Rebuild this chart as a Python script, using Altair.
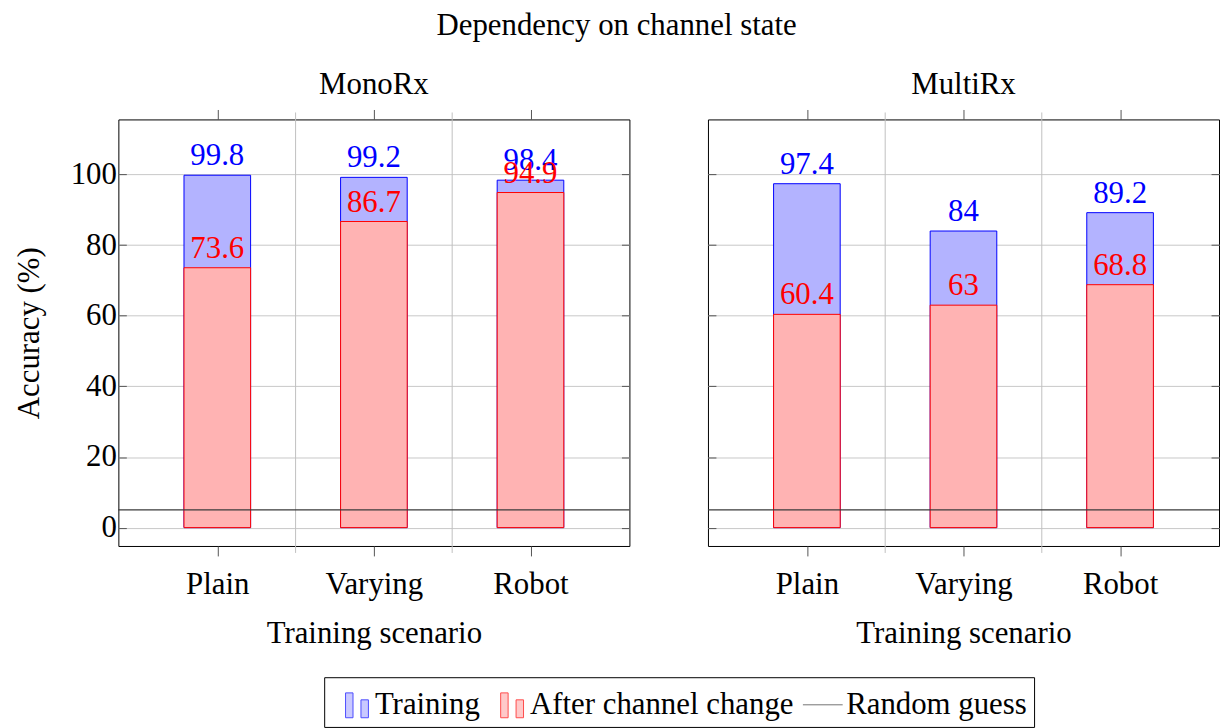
import altair as alt
import pandas as pd

# ---------------- data ----------------
receivers = ["MonoRx", "MultiRx"]
scenarios = ["Plain", "Varying", "Robot"]
positions = [0, 1, 2]
training_mono = [99.8, 99.2, 98.4]
after_mono = [73.6, 86.7, 94.9]
training_multi = [97.4, 84, 89.2]
after_multi = [60.4, 63, 68.8]
random_guess = 5
series_names = ["Training", "After channel change", "Random guess"]
y_ticks = [0, 20, 40, 60, 80, 100]
minor_grid = [0.5, 1.5]

FONT = "Liberation Serif"
W, H = 514, 429
FS = 31

xs = alt.Scale(domain=[-0.6, 2.6], nice=False, zero=False)
ys = alt.Scale(domain=[-5.2, 115.6], nice=False, zero=False)

BAR_ICON = "M-0.3,-0.6H0.075V0.65H-0.3Z M0.475,-0.25H0.85V0.65H0.475Z"
LINE_ICON = "M-1,0H1"

fill_scale = alt.Scale(domain=series_names, range=["#b3b3ff", "#ffb3b3", "transparent"])
stroke_scale = alt.Scale(domain=series_names, range=["#0000ff", "#ff0000", "#3a3a3a"])
shape_scale = alt.Scale(domain=series_names, range=[BAR_ICON, BAR_ICON, LINE_ICON])

legend = alt.Legend(
    title=None, orient="none", legendX=207, legendY=561, direction="horizontal",
    symbolSize=1600,
    labelFontSize=FS, labelFont=FONT, labelColor="black", labelLimit=500,
    strokeColor="black", padding=7, columnPadding=6, labelOffset=3,
    symbolStrokeWidth=1,
)

label_expr = "[" + ",".join("'%s'" % s for s in scenarios) + "][datum.value]"


def make_panel(title, train, after, show_y):
    train_df = pd.DataFrame({"pos": positions, "value": train, "series": "Training"})
    after_df = pd.DataFrame({"pos": positions, "value": after, "series": "After channel change"})
    guess_df = pd.DataFrame({"value": [random_guess], "series": ["Random guess"]})
    grid_df = pd.DataFrame({"pos": minor_grid})
    legend_df = pd.DataFrame({"series": series_names})

    x_bottom = alt.Axis(
        values=positions, labelExpr=label_expr, grid=False, domain=False,
        ticks=True, tickSize=10, tickColor="#555555", labelPadding=14,
        title="Training scenario", titlePadding=19,
        labelFont=FONT, labelFontSize=FS, labelColor="black",
        titleFont=FONT, titleFontSize=FS, titleFontWeight="normal", titleColor="black",
    )
    x_top = alt.Axis(
        orient="top", values=positions, labels=False, grid=False, domain=False,
        tickSize=10, tickColor="#555555", title=None,
    )
    y_left = alt.Axis(
        values=y_ticks, grid=True, gridColor="#c8c8c8", domain=False,
        tickSize=8, tickColor="#555555", offset=-8, labels=show_y, labelPadding=2,
        title="Accuracy (%)" if show_y else None, titlePadding=25,
        labelFont=FONT, labelFontSize=FS, labelColor="black",
        titleFont=FONT, titleFontSize=FS, titleFontWeight="normal", titleColor="black",
    )
    y_right = alt.Axis(
        orient="right", values=y_ticks, grid=False, domain=False,
        tickSize=8, tickColor="#555555", offset=-8, labels=False, title=None,
    )

    grid = alt.Chart(grid_df).mark_rule(color="#c0c0c0", strokeWidth=1).encode(
        x=alt.X("pos:Q", scale=xs, axis=None),
        y=alt.value(-7),
        y2=alt.value(H + 7),
    )
    train_bar = alt.Chart(train_df).mark_bar(size=67, strokeWidth=1).encode(
        x=alt.X("pos:Q", scale=xs, axis=x_bottom),
        y=alt.Y("value:Q", scale=ys, axis=y_left),
        y2=alt.datum(0),
        fill=alt.Fill("series:N", scale=fill_scale, legend=legend),
        stroke=alt.Stroke("series:N", scale=stroke_scale, legend=legend),
    )
    after_bar = alt.Chart(after_df).mark_bar(size=67, strokeWidth=1).encode(
        x=alt.X("pos:Q", scale=xs, axis=None),
        y=alt.Y("value:Q", scale=ys, axis=None),
        y2=alt.datum(0),
        fill=alt.Fill("series:N", scale=fill_scale, legend=legend),
        stroke=alt.Stroke("series:N", scale=stroke_scale, legend=legend),
    )
    guess = alt.Chart(guess_df).mark_rule(strokeWidth=1.3).encode(
        y=alt.Y("value:Q", scale=ys, axis=None),
        stroke=alt.Stroke("series:N", scale=stroke_scale, legend=legend),
    )
    train_text = alt.Chart(train_df).mark_text(
        baseline="alphabetic", dy=-10, fontSize=FS, font=FONT, color="#0000ff"
    ).encode(
        x=alt.X("pos:Q", scale=xs, axis=None),
        y=alt.Y("value:Q", scale=ys, axis=None),
        text=alt.Text("value:Q", format="~g"),
    )
    after_text = alt.Chart(after_df).mark_text(
        baseline="alphabetic", dy=-10, fontSize=FS, font=FONT, color="#ff0000"
    ).encode(
        x=alt.X("pos:Q", scale=xs, axis=None),
        y=alt.Y("value:Q", scale=ys, axis=None),
        text=alt.Text("value:Q", format="~g"),
    )
    axes = alt.Chart(train_df).mark_point(opacity=0).encode(
        x=alt.X("pos:Q", scale=xs, axis=x_top),
        y=alt.Y("value:Q", scale=ys, axis=y_right),
    )
    leg = alt.Chart(legend_df).transform_filter("false").mark_point(filled=True).encode(
        fill=alt.Fill("series:N", scale=fill_scale, legend=legend),
        stroke=alt.Stroke("series:N", scale=stroke_scale, legend=legend),
        shape=alt.Shape("series:N", scale=shape_scale, legend=legend),
    )
    return alt.layer(
        grid, train_bar, after_bar, guess, train_text, after_text, axes, leg
    ).resolve_axis(x="independent", y="independent").properties(
        width=W, height=H,
        title=alt.Title(title, fontSize=FS, font=FONT, fontWeight="normal", color="black", offset=8),
    )


left = make_panel(receivers[0], training_mono, after_mono, True)
right = make_panel(receivers[1], training_multi, after_multi, False)

chart = alt.hconcat(left, right, spacing=75).properties(
    title=alt.Title("Dependency on channel state", fontSize=FS, font=FONT,
                    fontWeight="normal", color="black", anchor="middle", offset=27),
    padding={"left": 5, "right": 0, "top": 0, "bottom": 0},
).configure(font=FONT).configure_view(stroke="black", strokeWidth=1)

chart.save("out.html", embed_options={"renderer": "svg", "actions": False})
